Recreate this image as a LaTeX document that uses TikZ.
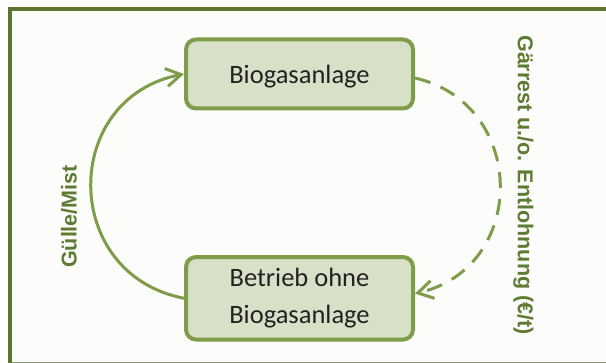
\documentclass[tikz,border=0pt]{standalone}
\usepackage{fontspec}
\setmainfont{Carlito}
\newfontfamily\labelfont{Liberation Sans}
\usetikzlibrary{arrows.meta}

\definecolor{framegreen}{HTML}{5E7532}
\definecolor{boxfill}{HTML}{D8E1C8}
\definecolor{boxline}{HTML}{7F9C4A}
\definecolor{boxtext}{HTML}{222222}
\definecolor{labelgreen}{HTML}{5E7B34}
\definecolor{paper}{HTML}{FCFCFA}
\definecolor{footline}{HTML}{8C9B74}

\begin{document}
\begin{tikzpicture}[x=1pt,y=1pt,
  stagebox/.style={draw=boxline, fill=boxfill, line width=4pt,
    rounded corners=10pt, minimum width=227pt, minimum height=69pt,
    inner sep=0pt, text=boxtext, align=center,
    font=\fontsize{26.5pt}{36.7pt}\selectfont},
  flow/.style={draw=boxline, line width=3pt,
    -{Straight Barb[length=15pt,width=18pt]}},
  flowlabel/.style={text=labelgreen, inner sep=0pt,
    font=\labelfont\bfseries\fontsize{21.5pt}{24pt}\selectfont}]

  % page, paper and frame
  \useasboundingbox (0,0) rectangle (606,363);
  \clip (0,0) rectangle (606,363);
  \fill[white] (0,0) rectangle (606,363);
  \fill[paper] (10,0) rectangle (606,354);
  \draw[framegreen, line width=4.6pt] (10,-6) -- (10,354) -- (615,354);
  \draw[footline, line width=1.2pt] (12,0.7) -- (606,0.7);

  % the two stages
  \node[stagebox, text depth=0pt] (gas) at (299.5,289) {Biogasanlage};
  \node[stagebox, minimum height=82.5pt] (farm) at (299.5,64.7)
    {Betrieb ohne\\Biogasanlage};

  % flows between them
  \draw[flow] (farm.west) to[out=169,in=191,looseness=1.44] (gas.west);
  \draw[flow, dash pattern=on 16pt off 11pt]
    ([yshift=-4pt]gas.east) to[out=-13,in=13,looseness=1.38]
    ([yshift=4.7pt]farm.east);

  % flow labels
  \node[flowlabel, rotate=90] (manure) at (69,146.5) {Gülle/Mist};
  \node[flowlabel, rotate=-90] (digest) at (523.3,178)
    {Gärrest u./o. Entlohnung (€/t)};
\end{tikzpicture}
\end{document}
